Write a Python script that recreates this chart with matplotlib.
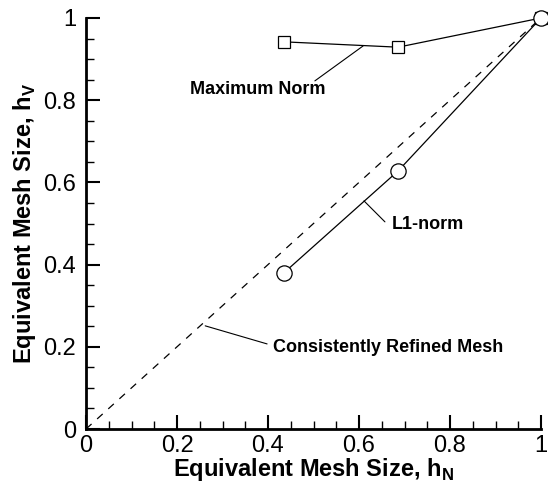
import numpy as np
import matplotlib
matplotlib.use("Agg")
import matplotlib.pyplot as plt
from matplotlib.ticker import MultipleLocator

plt.rcParams["font.family"] = ["Liberation Sans", "DejaVu Sans"]
plt.rcParams["mathtext.fontset"] = "custom"
plt.rcParams["mathtext.bf"] = "Liberation Sans:bold"
plt.rcParams["mathtext.rm"] = "Liberation Sans"

# data
h_n = [0.435, 0.686, 1.0]
max_norm = [0.942, 0.929, 1.0]
l1_norm = [0.38, 0.628, 1.0]
ref_line = [0.0, 1.0]
ticks = [0, 0.2, 0.4, 0.6, 0.8, 1.0]
tick_labels = ["0", "0.2", "0.4", "0.6", "0.8", "1"]

fig = plt.figure(figsize=(5.48, 4.91), dpi=100)
ax = fig.add_axes([86 / 548, 62 / 491, 455 / 548, 411 / 491])

ax.plot(ref_line, ref_line, color="black", lw=0.9, ls=(0, (6, 6)))
ax.plot(h_n, max_norm, color="black", lw=0.9, marker="s", ms=8,
        mfc="white", mec="black", mew=0.9, clip_on=False)
ax.plot(h_n, l1_norm, color="black", lw=0.9, marker="o", ms=11,
        mfc="white", mec="black", mew=0.9, clip_on=False)

# labels with leader lines
leader = dict(arrowstyle="-", lw=0.8, color="black", shrinkA=0, shrinkB=0)
ax.annotate("", xy=(0.609, 0.932), xytext=(0.503, 0.847), arrowprops=leader)
ax.text(0.229, 0.826, "Maximum Norm", fontsize=13, fontweight="bold",
        ha="left", va="center")
ax.annotate("", xy=(0.611, 0.555), xytext=(0.657, 0.504), arrowprops=leader)
ax.text(0.671, 0.497, "L1-norm", fontsize=13, fontweight="bold",
        ha="left", va="center")
ax.annotate("", xy=(0.262, 0.251), xytext=(0.398, 0.207), arrowprops=leader)
ax.text(0.411, 0.199, "Consistently Refined Mesh", fontsize=13,
        fontweight="bold", ha="left", va="center")

ax.set_xlim(0, 1)
ax.set_ylim(0, 1)
ax.spines["top"].set_visible(False)
ax.spines["right"].set_visible(False)
ax.spines["left"].set_linewidth(2)
ax.spines["bottom"].set_linewidth(2)

ax.xaxis.set_minor_locator(MultipleLocator(0.05))
ax.yaxis.set_minor_locator(MultipleLocator(0.05))
ax.set_xticks(ticks)
ax.set_xticklabels(tick_labels)
ax.set_yticks(ticks)
ax.set_yticklabels(tick_labels)
ax.tick_params(which="major", direction="in", length=10, width=1.5,
               labelsize=17)
ax.tick_params(axis="x", which="major", pad=4)
ax.tick_params(axis="y", which="major", pad=7)
ax.tick_params(which="minor", direction="in", length=6, width=1.0)

ax.set_xlabel(r"Equivalent Mesh Size, h$_\mathbf{N}$", fontsize=17,
              fontweight="bold")
ax.set_ylabel(r"Equivalent Mesh Size, h$_\mathbf{V}$", fontsize=17,
              fontweight="bold")
ax.xaxis.set_label_coords(0.5, -0.065)
ax.yaxis.set_label_coords(-0.105, 0.5)

fig.savefig("out.png", dpi=100)
